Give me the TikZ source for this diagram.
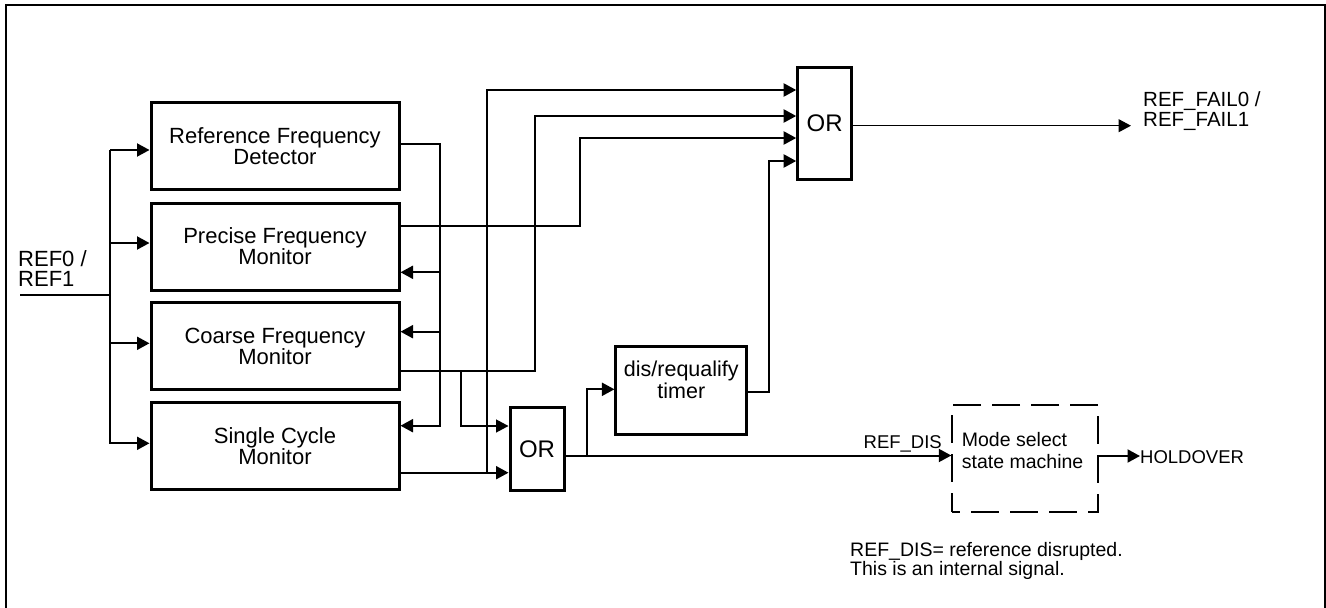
\documentclass[tikz,border=0pt]{standalone}
\usepackage{fontspec}
\setmainfont{Liberation Sans}
\usetikzlibrary{arrows.meta}
\begin{document}
\begin{tikzpicture}[x=1pt,y=-1pt,
  blk/.style={draw, line width=3pt, minimum width=248pt, minimum height=87pt, align=center, inner sep=0pt, font=\fontsize{22}{21}\selectfont},
  gate/.style={draw, line width=3pt, minimum width=54pt, inner sep=0pt, font=\fontsize{24}{24}\selectfont},
  wire/.style={line width=2pt},
  thinwire/.style={line width=1.3pt},
  arr/.style={-{Triangle[length=12.5pt,width=13pt]}},
  small/.style={inner sep=0pt, align=left, font=\fontsize{18.5}{20}\selectfont},
  note/.style={inner sep=0pt, align=left, font=\fontsize{19.5}{18.3}\selectfont}
]
\useasboundingbox (0,0) rectangle (1326,608);
% frame
\draw[line width=2pt] (6,610) -- (6,5) -- (1325,5) -- (1325,610);

% blocks
\node[blk] (rfd) at (275,146) {Reference Frequency\\Detector};
\node[blk] (pfm) at (275,246.5) {Precise Frequency\\Monitor};
\node[blk] (cfm) at (275,346.3) {Coarse Frequency\\Monitor};
\node[blk] (scm) at (275,446.3) {Single Cycle\\Monitor};

\node[gate, minimum height=111.7pt] (or1) at (824.7,123.2) {OR};
\node[gate, minimum height=82.7pt] (or2) at (537,449.3) {OR};
\node[draw, line width=3pt, minimum width=130.7pt, minimum height=88pt, inner sep=0pt] (timer) at (681.3,390) {};
\node[align=center, inner sep=0pt, anchor=base, font=\fontsize{21.5}{20}\selectfont] (timertxt) at (681.3,398) {dis/requalify\\timer};
\node[draw, line width=2pt, dash pattern=on 28pt off 11pt, dash phase=20pt, minimum width=146pt, minimum height=106.7pt, inner sep=0pt] (mode) at (1025.3,458.3) {};
\node[inner sep=0pt, align=left, anchor=base west, font=\fontsize{19.5}{21.6}\selectfont] (modetxt) at (961.7,468.3) {Mode select\\state machine};

% labels
\node[inner sep=0pt, align=left, anchor=base west, font=\fontsize{22}{20}\selectfont] (reflbl) at (18,286) {REF0 /\\REF1};
\node[inner sep=0pt, align=left, anchor=base west, font=\fontsize{20.5}{20}\selectfont] (faillbl) at (1143,126.7) {REF\_FAIL0 /\\REF\_FAIL1};
\node[small, anchor=base east] (dislbl) at (942,448.3) {REF\_DIS};
\node[small, anchor=base west] (hold) at (1140,463) {HOLDOVER};
\node[note, anchor=base west] (notelbl) at (850,575) {REF\_DIS= reference disrupted.\\This is an internal signal.};

% input bus
\coordinate (in) at (20,295);
\coordinate (busT) at (110,150);
\coordinate (busB) at (110,443.3);
\draw[wire] (in) -- (110,295);
\draw[wire, arr] (busT) -- (rfd.west |- busT);
\draw[wire, arr] (110,243) -- (pfm.west |- 0,243);
\draw[wire, arr] (110,343.3) -- (cfm.west |- 0,343.3);
\draw[wire, arr] (110,150) -- (busB) -- (scm.west |- busB);

% feedback bus
\draw[wire, arr] (rfd.east |- 0,144) -| (440,425.7) -- (scm.east |- 0,425.7);
\draw[wire, arr] (440,272.3) -- (pfm.east |- 0,272.3);
\draw[wire, arr] (440,331.7) -- (cfm.east |- 0,331.7);

% outputs to OR1
\draw[wire, arr] (pfm.east |- 0,225.7) -| (580,138) -- (or1.west |- 0,138);
\draw[wire, arr] (cfm.east |- 0,370.7) -| (535,116) -- (or1.west |- 0,116);
\draw[wire, arr] (scm.east |- 0,472.7) -- (or2.west |- 0,472.7);
\draw[wire, arr] (486.7,472.7) -- (486.7,90) -- (or1.west |- 0,90);
\draw[thinwire, arr] (461,370.7) |- (or2.west |- 0,426);
\draw[wire, arr] (timer.east |- 0,391.7) -| (769,161) -- (or1.west |- 0,161);

% OR1 output
\coordinate (failend) at (1131,125.7);
\draw[thinwire, arr] (or1.east |- failend) -- (failend);

% OR2 output
\draw[wire, arr] (or2.east |- 0,455.5) -- (mode.west |- 0,455.5);
\draw[wire, arr] (586.7,455.5) |- (timer.west |- 0,389.3);
\draw[wire, arr] (mode.east |- 0,456) -- (hold.west |- 0,456);
\end{tikzpicture}
\end{document}
